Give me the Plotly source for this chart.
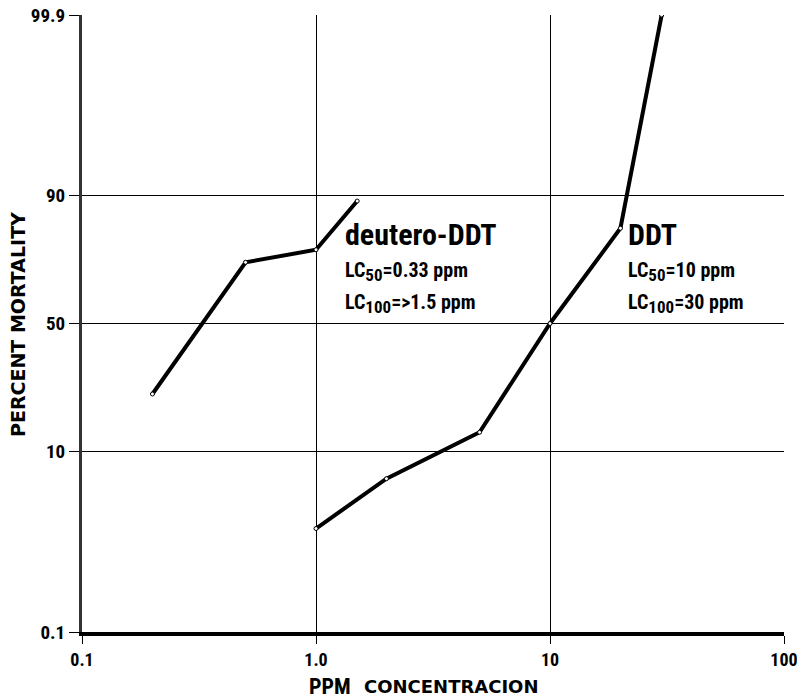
import plotly.graph_objects as go
from statistics import NormalDist

nd = NormalDist()
def probit(p):
    return nd.inv_cdf(p / 100.0)

# Data
ddt_conc = [1.0, 2.0, 5.0, 10.0, 20.0, 30.0]
ddt_mort = [2.0, 6.0, 13.8, 50.0, 83.0, 99.9]
deut_conc = [0.2, 0.5, 1.0, 1.5]
deut_mort = [24.0, 73.0, 77.0, 89.0]

y_ticks = [0.1, 10, 50, 90, 99.9]
y_ticktext = ["0.1", "10", "50", "90", "99.9"]
x_ticks = [0.1, 1.0, 10, 100]
x_ticktext = ["0.1", "1.0", "10", "100"]

NARROW = "Liberation Sans Narrow, Roboto Condensed, Arial Narrow, DejaVu Sans Condensed, sans-serif"
WIDE = "DejaVu Sans, Verdana, sans-serif"

fig = go.Figure()
for xs, ys in [(deut_conc, deut_mort), (ddt_conc, ddt_mort)]:
    fig.add_trace(go.Scatter(
        x=xs, y=[probit(v) for v in ys], mode="lines+markers",
        line=dict(color="black", width=4),
        marker=dict(size=4, color="white", line=dict(color="black", width=1)),
        showlegend=False))

fig.update_xaxes(
    type="log", range=[-1, 2], automargin=False, ticklabeloverflow="allow",
    tickvals=x_ticks, ticktext=["<b>%s</b>" % t for t in x_ticktext],
    showgrid=True, gridcolor="black", gridwidth=1,
    showline=True, linecolor="black", linewidth=4,
    ticks="outside", ticklen=8, tickcolor="black",
    tickfont=dict(family=NARROW, size=18, color="black"),
    zeroline=False)
fig.update_yaxes(
    range=[probit(0.1), probit(99.9)], automargin=False, ticklabeloverflow="allow",
    tickvals=[probit(v) for v in y_ticks], ticktext=["<b>%s</b>" % t for t in y_ticktext],
    showgrid=True, gridcolor="black", gridwidth=1,
    showline=True, linecolor="#333333", linewidth=3,
    ticks="outside", ticklen=10, tickcolor="black",
    tickfont=dict(family=NARROW, size=19, color="black"),
    zeroline=False)

W, H = 797, 697
L, R, T, B = 82, 13, 15, 65
pw, ph = W - L - R, H - T - B
def px(x): return (x - L) / pw
def py(y): return 1 - (y - T) / ph

def ann(x, y, text, size, family=NARROW, anchor="left", angle=0):
    fig.add_annotation(x=px(x), y=py(y), xref="paper", yref="paper", text=text,
                       showarrow=False, xanchor=anchor, yanchor="middle",
                       textangle=angle,
                       font=dict(family=family, size=size, color="black"))

SUB = "<sub><span style='font-size:17px'>%s</span></sub>"
ann(343, 234, "<b>deutero-DDT</b>", 30)
ann(343, 271, "<b>LC" + SUB % "50" + "=0.33 ppm</b>", 20)
ann(343, 303, "<b>LC" + SUB % "100" + "=>1.5 ppm</b>", 20)
ann(626, 234, "<b>DDT</b>", 30)
ann(626, 271, "<b>LC" + SUB % "50" + "=10 ppm</b>", 20)
ann(626, 303, "<b>LC" + SUB % "100" + "=30 ppm</b>", 20)

ann(18, 325, "<b>PERCENT MORTALITY</b>", 19, family=WIDE, anchor="center", angle=-90)
ann(353, 686, "<b>PPM</b>", 22, anchor="right")
ann(362, 686, "<b>CONCENTRACION</b>", 18, family=WIDE, anchor="left")

fig.update_layout(
    width=W, height=H,
    margin=dict(l=L, r=R, t=T, b=B),
    plot_bgcolor="white", paper_bgcolor="white",
)
fig.write_html("out.html",
               config={"displayModeBar": False},
               post_script="document.body.style.margin='0';document.body.style.overflow='hidden';")
